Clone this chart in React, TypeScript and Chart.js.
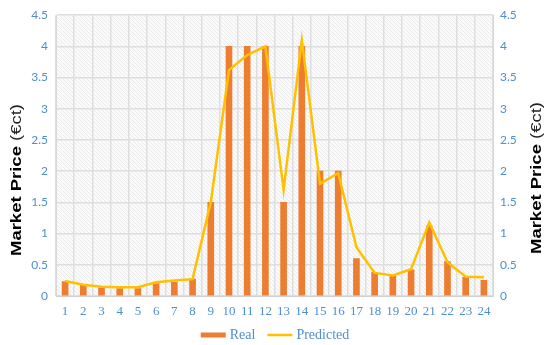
import React, { useEffect, useRef } from "react";
import { Chart, registerables } from "chart.js";

Chart.register(...registerables);

const hours = ["1","2","3","4","5","6","7","8","9","10","11","12","13","14","15","16","17","18","19","20","21","22","23","24"];
const realPrice = [0.23,0.17,0.13,0.12,0.12,0.2,0.22,0.27,1.5,4,4,4,1.5,4,2,2,0.6,0.38,0.33,0.42,1.12,0.55,0.3,0.25];
const predictedPrice = [0.24,0.18,0.15,0.14,0.14,0.22,0.25,0.27,1.5,3.62,3.86,4.0,1.7,4.1,1.8,1.97,0.78,0.37,0.33,0.43,1.18,0.54,0.31,0.3];
const yTitleBold = "Market Price ";
const yTitleRegular = "(€ct)";
const legendLabels = ["Real", "Predicted"];

const ORANGE = "#ED7D31";
const YELLOW = "#FFC000";
const BLUE = "#4F8FD0";

function makePattern(): CanvasPattern | string {
  const c = document.createElement("canvas");
  c.width = 4;
  c.height = 4;
  const g = c.getContext("2d");
  if (!g) return "#f5f5f5";
  g.fillStyle = "#fafafa";
  g.fillRect(0, 0, 4, 4);
  g.strokeStyle = "#ebebeb";
  g.lineWidth = 1;
  g.beginPath();
  g.moveTo(-1, -1);
  g.lineTo(5, 5);
  g.stroke();
  const p = g.createPattern(c, "repeat");
  return p || "#f5f5f5";
}

const bgPlugin = {
  id: "hatchBg",
  beforeDraw(chart: any) {
    const { ctx, chartArea } = chart;
    if (!chartArea) return;
    ctx.save();
    ctx.fillStyle = makePattern();
    ctx.fillRect(chartArea.left, chartArea.top, chartArea.right - chartArea.left, chartArea.bottom - chartArea.top);
    ctx.restore();
  },
};

function drawTitle(ctx: CanvasRenderingContext2D, cx: number, cy: number) {
  ctx.save();
  ctx.translate(cx, cy);
  ctx.rotate(-Math.PI / 2);
  const boldFont = "bold 15px 'Liberation Sans', Arial, sans-serif";
  const regFont = "15px 'Liberation Sans', Arial, sans-serif";
  ctx.font = boldFont;
  const w1 = ctx.measureText(yTitleBold).width;
  ctx.font = regFont;
  const w2 = ctx.measureText(yTitleRegular).width;
  const w = w1 + w2;
  const s = 152 / w;
  ctx.scale(s, 1);
  ctx.textBaseline = "middle";
  ctx.textAlign = "left";
  ctx.fillStyle = "#000";
  ctx.font = boldFont;
  ctx.fillText(yTitleBold, -w / 2, 0);
  ctx.font = regFont;
  ctx.fillStyle = "#222";
  ctx.fillText(yTitleRegular, -w / 2 + w1, 0);
  ctx.restore();
}

const overlayPlugin = {
  id: "overlay",
  afterDraw(chart: any) {
    const ctx: CanvasRenderingContext2D = chart.ctx;
    drawTitle(ctx, 17, 180);
    drawTitle(ctx, 537, 178);
    ctx.save();
    ctx.font = "14px 'Liberation Serif', 'DejaVu Serif', serif";
    const boxW = 25;
    const gap = 4;
    const itemGap = 12;
    const t1 = ctx.measureText(legendLabels[0]).width;
    const t2 = ctx.measureText(legendLabels[1]).width;
    const total = boxW + gap + t1 + itemGap + boxW + gap + t2;
    let x = 275 - total / 2;
    const y = 335;
    ctx.fillStyle = ORANGE;
    ctx.fillRect(x, y - 2.5, boxW, 5);
    x += boxW + gap;
    ctx.fillStyle = BLUE;
    ctx.textBaseline = "middle";
    ctx.fillText(legendLabels[0], x, y);
    x += t1 + itemGap;
    ctx.strokeStyle = YELLOW;
    ctx.lineWidth = 2.5;
    ctx.beginPath();
    ctx.moveTo(x, y);
    ctx.lineTo(x + boxW, y);
    ctx.stroke();
    x += boxW + gap;
    ctx.fillText(legendLabels[1], x, y);
    ctx.restore();
  },
};

const fmt = (v: any) => String(Number(v));

export default function App() {
  const ref = useRef<HTMLCanvasElement | null>(null);
  useEffect(() => {
    if (!ref.current) return;
    const gridColor = "#dedede";
    const chart = new Chart(ref.current, {
      type: "bar",
      data: {
        labels: hours,
        datasets: [
          {
            type: "line",
            label: legendLabels[1],
            data: predictedPrice,
            borderColor: YELLOW,
            backgroundColor: YELLOW,
            borderWidth: 2.5,
            pointRadius: 0,
            tension: 0,
            yAxisID: "y",
            order: 0,
          } as any,
          {
            type: "bar",
            label: legendLabels[0],
            data: realPrice,
            backgroundColor: ORANGE,
            barThickness: 6,
            yAxisID: "y",
            order: 1,
          },
        ],
      },
      options: {
        responsive: false,
        animation: false,
        layout: { padding: { top: 13, bottom: 24, left: 0, right: 0 } },
        plugins: {
          legend: { display: false },
          tooltip: { enabled: false },
        },
        scales: {
          x: {
            offset: true,
            grid: { color: gridColor, lineWidth: 1.5, drawTicks: false, offset: true },
            border: { color: "#d0d0d0" },
            ticks: {
              color: BLUE,
              padding: 8,
              font: { family: "'Liberation Serif', 'DejaVu Serif', serif", size: 13 },
              maxRotation: 0,
              autoSkip: false,
            },
            afterFit(scale: any) { scale.height = 25; },
          },
          y: {
            position: "left",
            min: 0,
            max: 4.5,
            ticks: {
              stepSize: 0.5,
              color: BLUE,
              padding: 8,
              font: { family: "Lato, 'Open Sans', sans-serif", size: 12 },
              callback: fmt,
            },
            grid: { color: gridColor, lineWidth: 1.5, drawTicks: false },
            border: { color: "#d8d8d8" },
            afterFit(scale: any) { scale.width = 56; },
          },
          y2: {
            position: "right",
            min: 0,
            max: 4.5,
            ticks: {
              stepSize: 0.5,
              color: BLUE,
              padding: 7,
              font: { family: "Lato, 'Open Sans', sans-serif", size: 12 },
              callback: fmt,
            },
            grid: { display: false, drawTicks: false },
            border: { color: "#d8d8d8" },
            afterFit(scale: any) { scale.width = 57; },
          },
        },
      },
      plugins: [bgPlugin, overlayPlugin],
    });
    return () => chart.destroy();
  }, []);
  return (
    <div style={{ position: "absolute", left: 0, top: 0, width: 550, height: 345, background: "#fff" }}>
      <canvas ref={ref} width={550} height={345} style={{ display: "block", width: 550, height: 345 }} />
    </div>
  );
}
